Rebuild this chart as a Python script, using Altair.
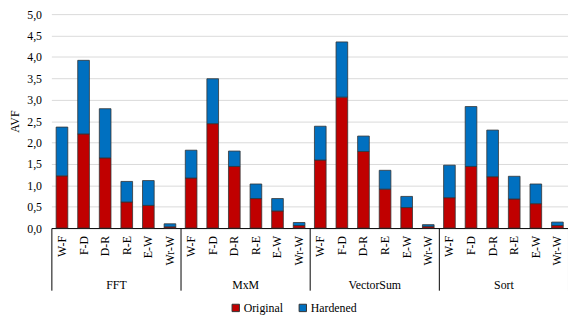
import altair as alt
import pandas as pd

groups = ["FFT", "MxM", "VectorSum", "Sort"]
stages = ["W-F", "F-D", "D-R", "R-E", "E-W", "Wr-W"]
series = ["Original", "Hardened"]
colors = ["#C00000", "#0070C0"]

original = {
    "FFT":       [1.22, 2.20, 1.64, 0.61, 0.53, 0.03],
    "MxM":       [1.17, 2.44, 1.44, 0.69, 0.40, 0.06],
    "VectorSum": [1.59, 3.06, 1.79, 0.91, 0.48, 0.04],
    "Sort":      [0.71, 1.44, 1.20, 0.68, 0.57, 0.06],
}
hardened = {
    "FFT":       [1.14, 1.72, 1.15, 0.48, 0.58, 0.07],
    "MxM":       [0.65, 1.05, 0.36, 0.34, 0.29, 0.07],
    "VectorSum": [0.79, 1.29, 0.36, 0.44, 0.26, 0.04],
    "Sort":      [0.76, 1.40, 1.09, 0.53, 0.46, 0.08],
}
y_ticks = [0, 0.5, 1.0, 1.5, 2.0, 2.5, 3.0, 3.5, 4.0, 4.5, 5.0]

rows = []
for g in groups:
    for i, s in enumerate(stages):
        rows.append(dict(group=g, stage=s, type="Original", ord=0, value=original[g][i]))
        rows.append(dict(group=g, stage=s, type="Hardened", ord=1, value=hardened[g][i]))
df = pd.DataFrame(rows)

FONT = "Liberation Serif"
W, H = 524, 217

x_enc = alt.X(
    "group:N", sort=groups, title=None,
    scale=alt.Scale(paddingInner=0, paddingOuter=0),
    axis=alt.Axis(
        labelAngle=0, tickBand="extent", tickSize=63, tickColor="#000000",
        tickWidth=1, domainColor="#000000", domainWidth=1,
        labelPadding=-11, labelFontSize=12, labelFont=FONT, labelColor="#000000",
        grid=False,
    ),
)
xo_enc = alt.XOffset("stage:N", sort=stages,
                     scale=alt.Scale(paddingInner=0.46, paddingOuter=0.22))

bars = alt.Chart(df).mark_bar(stroke="#333333", strokeWidth=0.8).encode(
    x=x_enc,
    xOffset=xo_enc,
    y=alt.Y(
        "value:Q", stack="zero",
        scale=alt.Scale(domain=[0, 5], nice=False),
        axis=alt.Axis(
            values=y_ticks,
            labelExpr="replace(format(datum.value, '.1f'), '.', ',')",
            title="AVF", titleFont=FONT, titleFontSize=12, titleFontWeight="normal",
            titleColor="#000000", titlePadding=5,
            labelFont=FONT, labelFontSize=12, labelColor="#000000", labelPadding=10,
            ticks=False, domain=False, gridColor="#d9d9d9", gridWidth=1,
        ),
    ),
    color=alt.Color(
        "type:N",
        scale=alt.Scale(domain=series, range=colors),
        legend=alt.Legend(
            title=None, orient="none", direction="horizontal",
            legendX=181, legendY=292,
            symbolType="square", symbolSize=56,
            symbolStrokeColor="#333333", symbolStrokeWidth=1,
            labelFont=FONT, labelFontSize=12, labelColor="#000000",
            labelOffset=2, columnPadding=14, padding=0,
        ),
    ),
    order=alt.Order("ord:Q"),
)

labels = alt.Chart(df).transform_filter("datum.type == 'Original'").mark_text(
    angle=270, align="right", baseline="middle", font=FONT, fontSize=12, color="#000000"
).encode(
    x=alt.X("group:N", sort=groups),
    xOffset=alt.XOffset("stage:N", sort=stages),
    y=alt.value(H + 8),
    text="stage:N",
)

chart = alt.layer(bars, labels).properties(
    width=W, height=H,
    padding={"left": 44, "top": 4, "right": 0, "bottom": 89},
    autosize=alt.AutoSizeParams(type="none"),
).configure_view(stroke=None)

chart.save("out.html", embed_options={"renderer": "svg", "actions": False})
